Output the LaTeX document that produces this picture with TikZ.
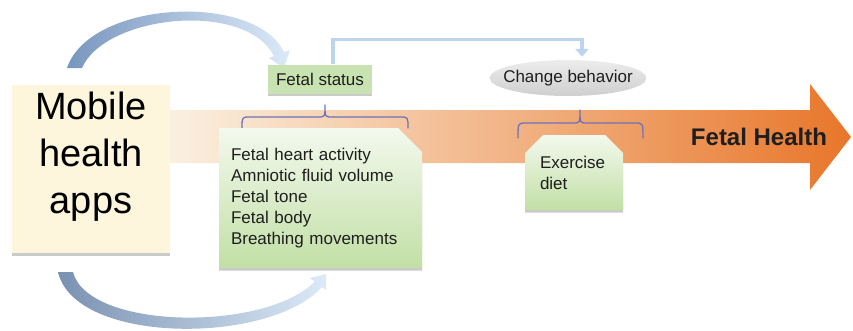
\documentclass[tikz,border=0pt]{standalone}
\usepackage{fontspec}
\setmainfont{Liberation Sans}
\usetikzlibrary{shapes.geometric,shapes.misc,shadows,arrows.meta}
\definecolor{arrowL}{HTML}{FBF4E6}
\definecolor{arrowM}{HTML}{F6D0B4}
\definecolor{arrowR}{HTML}{E8762A}
\definecolor{mobfill}{HTML}{FDF6DC}
\definecolor{greenA}{HTML}{F3F9EE}
\definecolor{greenB}{HTML}{C2DFA5}
\definecolor{greenS}{HTML}{C8E2B2}
\definecolor{greyA}{HTML}{ECECEC}
\definecolor{greyB}{HTML}{CFCFCF}
\definecolor{bracec}{HTML}{6E72B6}
\definecolor{connc}{HTML}{BDD4EE}
\definecolor{blueA}{HTML}{7896BE}
\definecolor{blueB}{HTML}{DCEAF8}
\definecolor{txt}{HTML}{1E1E1E}
\begin{document}
\begin{tikzpicture}[x=1pt,y=-1pt,
  shad/.style={drop shadow={shadow xshift=0pt,shadow yshift=-2.5pt,opacity=0.35,fill=black!60}},
  mobbox/.style={rectangle,fill=mobfill,draw=none,shad,minimum width=158,minimum height=168,inner sep=0},
  smallbox/.style={rectangle,fill=greenS,draw=none,shad,minimum width=104,minimum height=29,inner sep=0,
     font=\fontsize{17}{21}\selectfont,text=txt},
  listbox/.style={chamfered rectangle,chamfered rectangle corners=north east,chamfered rectangle xsep=12pt,
     chamfered rectangle ysep=12pt,top color=greenA,bottom color=greenB,draw=none,shad,
     minimum width=199,minimum height=140,inner sep=0,text width=179,align=left,
     font=\fontsize{17}{21}\selectfont,text=txt},
  exbox/.style={chamfered rectangle,chamfered rectangle corners={north east,north west},chamfered rectangle xsep=9pt,
     chamfered rectangle ysep=9pt,top color=greenA,bottom color=greenB,draw=none,shad,
     minimum width=98,minimum height=75,inner sep=0,text width=68,align=left,
     font=\fontsize{17}{21}\selectfont,text=txt},
  ellbox/.style={ellipse,top color=greyA,bottom color=greyB,draw=none,minimum width=157,minimum height=36,
     inner xsep=-12pt,inner ysep=0pt,font=\fontsize{17}{21}\selectfont,text=txt},
  conn/.style={draw=connc,line width=3.5pt,-{Triangle[width=13pt,length=8pt]}},
  bracel/.style={draw=bracec,line width=1.3pt,line cap=round,line join=round}
]
\useasboundingbox (0,0) rectangle (853,330);

% big arrow
\shade[left color=arrowL,middle color=arrowM,right color=arrowR]
  (150,110) -- (810,110) -- (810,84) -- (851,137) -- (810,190) -- (810,163) -- (150,163) -- cycle;

% curved arrows
\shade[left color=blueA,right color=blueB]
  (67,68) -- (82,68) .. controls (105,15) and (245,0) .. (274,56)
  -- (269,58) -- (284,68) -- (290,50) -- (284,52)
  .. controls (255,-8) and (90,0) .. (67,68) -- cycle;
\shade[left color=blueA!80!gray,right color=blueB]
  (58,272) .. controls (75,345) and (270,345) .. (322,287)
  -- (326,290) -- (326,274) -- (310,278) -- (314.6,281.7)
  .. controls (265,332) and (88,330) .. (73,272) -- cycle;

% mobile box
\node[mobbox] (mob) at (91,169) {};
\node[font=\fontsize{38}{47}\selectfont,align=center,text=black] (mobt) at (91,157) {Mobile\\health\\apps};

% fetal status and change behaviour
\node[smallbox] (fs) at (320,79) {Fetal status};
\node[ellbox] (cb) at (568,78) {Change behavior};
\draw[conn,shorten >=3pt] ([xshift=13pt]fs.north) -- ++(0,-25) -| ([xshift=14pt]cb.north);

% braces
\draw[bracel] (242,128) .. controls (242,117) .. (250,117) -- (318,117)
  .. controls (325,117) .. (325,105) .. controls (325,117) .. (332,117) -- (400,117)
  .. controls (408,117) .. (408,128);
\draw[bracel] (518,138) .. controls (518,123) .. (526,123) -- (573,123)
  .. controls (580,123) .. (580,110) .. controls (580,123) .. (587,123) -- (635,123)
  .. controls (643,123) .. (643,138);

% list boxes
\node[listbox] (fl) at (320.5,198) {Fetal heart activity\\Amniotic fluid volume\\Fetal tone\\Fetal body\\Breathing movements};
\node[exbox] (ex) at (574,172.5) {Exercise\\diet};

% label
\node[font=\bfseries\fontsize{24}{28}\selectfont,text=txt] (fh) at (759,137) {Fetal Health};
\end{tikzpicture}
\end{document}
